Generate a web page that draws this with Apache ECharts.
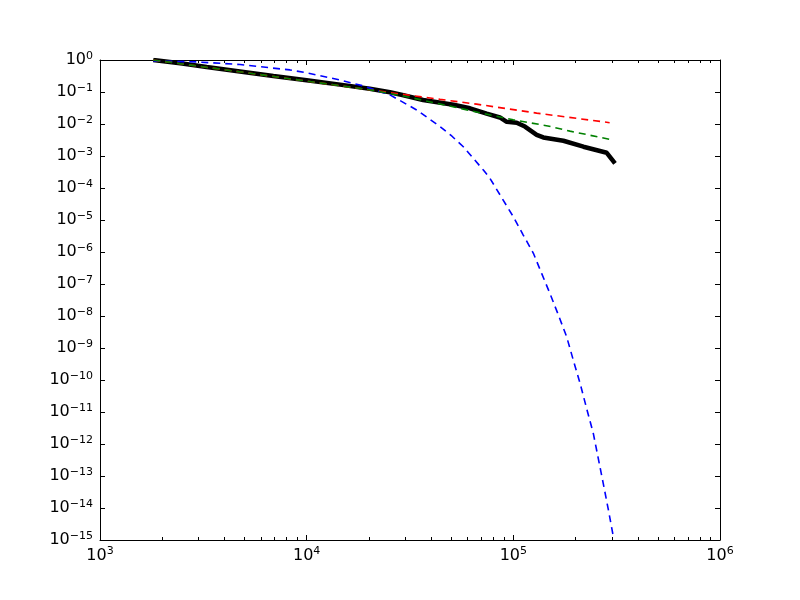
<!DOCTYPE html>
<html>
<head>
<meta charset="utf-8">
<script src="https://cdn.jsdelivr.net/npm/echarts@6/dist/echarts.min.js"></script>
<style>html,body{margin:0;padding:0;background:#fff}#c{width:800px;height:600px}</style>
</head>
<body>
<div id="c"></div>
<script>
// Empirical distribution (thick black)
var dataX = [1810, 2500, 3280, 4750, 6900, 10000, 14500, 20200, 25300, 29400, 36600, 51300, 61700, 74300, 86100, 92900, 103800, 113800, 129700, 139600, 174600, 218300, 283100, 310500];
var dataY = [1.0, 0.78, 0.60, 0.44, 0.316, 0.234, 0.17, 0.126, 0.098, 0.079, 0.056, 0.040, 0.031, 0.021, 0.016, 0.0117, 0.011, 0.0083, 0.0046, 0.0038, 0.0030, 0.00195, 0.00126, 0.00059];
// Red dashed fit
var redX = [1810, 4750, 10000, 25300, 44200, 66400, 129700, 292400];
var redY = [1.0, 0.427, 0.219, 0.0955, 0.0589, 0.0417, 0.0219, 0.011];
// Green dashed fit
var greenX = [1810, 4750, 10000, 20200, 29400, 61700, 100000, 146900, 187900, 304100];
var greenY = [1.0, 0.427, 0.219, 0.117, 0.075, 0.0263, 0.0135, 0.0087, 0.0060, 0.00316];
// Blue dashed fit
var blueX = [1811, 2938, 4753, 8299, 10000, 14490, 18793, 25293, 34041, 38815, 44157, 50350, 57280, 63970, 71614, 77090, 100000, 111690, 125030, 137090, 150310, 165200, 181130, 194980, 210380, 226490, 243780, 257630, 272270, 288400, 304790];
var blueY = [0.933, 0.871, 0.724, 0.490, 0.398, 0.237, 0.155, 0.0813, 0.0275, 0.0151, 0.00832, 0.00422, 0.00195, 8.5e-4, 3.63e-4, 2.0e-4, 1.26e-5, 3.39e-6, 9.1e-7, 2.14e-7, 5.1e-8, 1.07e-8, 2.24e-9, 4.2e-10, 7.9e-11, 1.26e-11, 2.14e-12, 3.55e-13, 5.9e-14, 8.7e-15, 1.26e-15];
// Axis ticks
var xMajor = [1e3, 1e4, 1e5, 1e6];
var xMinor = [2e3,3e3,4e3,5e3,6e3,7e3,8e3,9e3, 2e4,3e4,4e4,5e4,6e4,7e4,8e4,9e4, 2e5,3e5,4e5,5e5,6e5,7e5,8e5,9e5];
var yMajor = [1e-15,1e-14,1e-13,1e-12,1e-11,1e-10,1e-9,1e-8,1e-7,1e-6,1e-5,1e-4,1e-3,1e-2,1e-1,1];

function zip(xs, ys){ return xs.map(function(x,i){ return [x, ys[i]]; }); }
var FONT = 'DejaVu Sans';
function fmt(v){
  var e = Math.round(Math.log10(v));
  var s = e < 0 ? '\u2212' + (-e) : String(e);
  return '{b|10}{e|' + s + '}';
}
var rich = {
  b: {fontSize: 16, fontFamily: FONT, color: '#000'},
  e: {fontSize: 11, fontFamily: FONT, color: '#000', padding: [0,0,8,0]}
};
function xAx(pos, labels, minor){
  return {
    type: 'log', logBase: 10, min: 1e3, max: 1e6, position: pos, splitNumber: 3,
    axisLine: {show: !minor, onZero: false, lineStyle: {color: '#000', width: 1}},
    axisTick: {show: true, inside: true, length: minor ? 3 : 5, customValues: minor ? xMinor : xMajor, lineStyle: {color: '#000', width: 1}},
    axisLabel: {show: labels, customValues: xMajor, formatter: fmt, rich: rich, margin: 6},
    splitLine: {show: false}, minorTick: {show: false}
  };
}
function yAx(pos, labels){
  return {
    type: 'log', logBase: 10, min: 1e-15, max: 1, position: pos, splitNumber: 15,
    axisLine: {show: true, onZero: false, lineStyle: {color: '#000', width: 1}},
    axisTick: {show: true, inside: true, length: 5, customValues: yMajor, lineStyle: {color: '#000', width: 1}},
    axisLabel: {show: labels, customValues: yMajor, formatter: fmt, rich: rich, margin: 7},
    splitLine: {show: false}
  };
}
var chart = echarts.init(document.getElementById('c'), null, {renderer: 'canvas'});
function dash(c){ return {color: c, width: 1.6, type: [7, 5]}; }
chart.setOption({
  animation: false,
  backgroundColor: '#fff',
  grid: {left: 100, right: 80, top: 60, bottom: 60, containLabel: false, outerBoundsMode: 'none'},
  xAxis: [xAx('bottom', true, false), xAx('top', false, false), xAx('bottom', false, true), xAx('top', false, true)],
  yAxis: [yAx('left', true), yAx('right', false)],
  series: [
    {type: 'line', data: zip(dataX, dataY), showSymbol: false, symbol: 'none', lineStyle: {color: '#000', width: 4.5}, z: 2},
    {type: 'line', data: zip(blueX, blueY), showSymbol: false, symbol: 'none', lineStyle: dash('#0000ff'), z: 3},
    {type: 'line', data: zip(redX, redY), showSymbol: false, symbol: 'none', lineStyle: dash('#ff0000'), z: 3},
    {type: 'line', data: zip(greenX, greenY), showSymbol: false, symbol: 'none', lineStyle: dash('#008000'), z: 3}
  ]
});
</script>
</body>
</html>
